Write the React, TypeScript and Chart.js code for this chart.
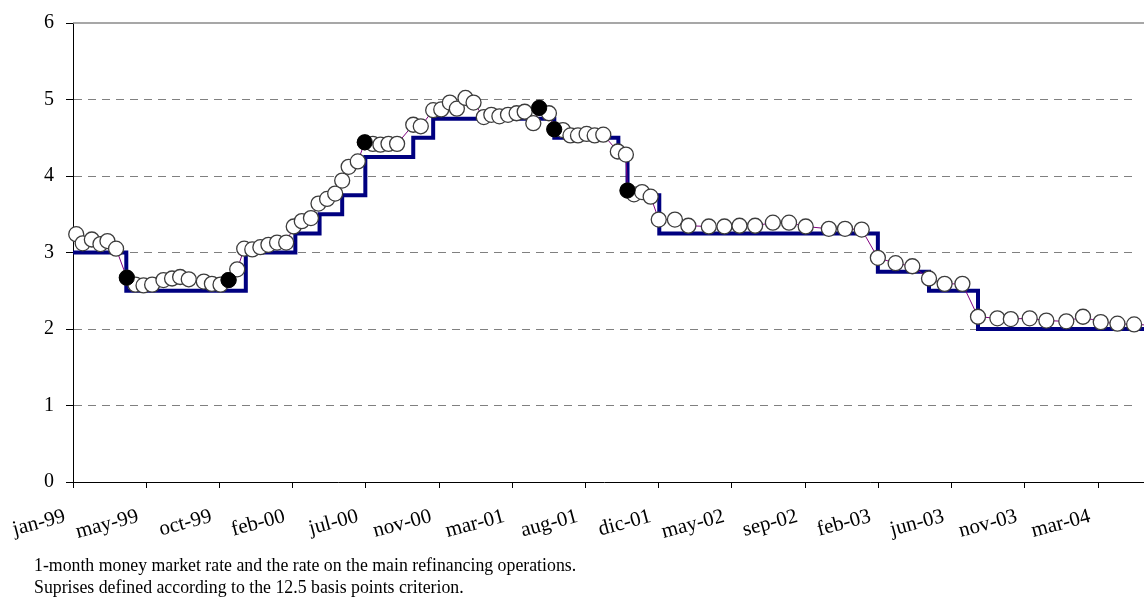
import React, { useEffect, useRef } from 'react';
import { Chart, registerables } from 'chart.js';

Chart.register(...registerables);

const FONT = "'Liberation Serif', 'Times New Roman', serif";

// x values are in axis "day" units: jan-99 label = 0, one label every 136 units
const xTickLabels = ['jan-99', 'may-99', 'oct-99', 'feb-00', 'jul-00', 'nov-00', 'mar-01', 'aug-01', 'dic-01', 'may-02', 'sep-02', 'feb-03', 'jun-03', 'nov-03', 'mar-04'];
const X_TICK_STEP = 136;
const X_MAX = 1973;

const yTickValues = [0, 1, 2, 3, 4, 5, 6];

// Rate on the main refinancing operations (step changes)
const mroDays = [0, 99, 321, 413, 458, 500, 543, 632, 669, 894, 1013, 1030, 1089, 1495, 1590, 1681, 2000];
const mroRates = [3.0, 2.5, 3.0, 3.25, 3.5, 3.75, 4.25, 4.5, 4.75, 4.5, 4.25, 3.75, 3.25, 2.75, 2.5, 2.0, 2.0];

// 1-month money market rate on meeting days
const mmDays = [6, 18, 35, 51, 64, 80, 100, 116, 131, 147, 168, 184, 199, 215, 243, 258, 274, 289, 305, 318,
  333, 348, 363, 379, 396, 410, 425, 442, 456, 472, 487, 500, 512, 529, 542, 557, 571, 586, 602, 632,
  646, 669, 684, 700, 713, 729, 744, 763, 777, 792, 808, 824, 839, 855, 866, 884, 894, 910, 924, 938,
  954, 969, 985, 1012, 1027, 1030, 1042, 1057, 1073, 1088, 1118, 1143, 1181, 1210, 1238, 1267, 1300, 1330, 1361, 1404,
  1434, 1465, 1495, 1528, 1559, 1590, 1619, 1652, 1681, 1717, 1742, 1777, 1808, 1845, 1876, 1909, 1940, 1971, 2000];
const mmRates = [3.24, 3.12, 3.17, 3.11, 3.15, 3.05, 2.67, 2.58, 2.57, 2.58, 2.64, 2.66, 2.68, 2.65, 2.62, 2.59, 2.58, 2.64, 2.78, 3.05,
  3.04, 3.07, 3.10, 3.13, 3.13, 3.34, 3.41, 3.45, 3.64, 3.70, 3.77, 3.94, 4.12, 4.19, 4.44, 4.42, 4.41, 4.42, 4.42, 4.67,
  4.65, 4.86, 4.87, 4.96, 4.88, 5.02, 4.96, 4.77, 4.80, 4.78, 4.80, 4.82, 4.84, 4.69, 4.89, 4.82, 4.61, 4.60, 4.53, 4.53,
  4.55, 4.53, 4.54, 4.32, 4.28, 3.81, 3.76, 3.79, 3.73, 3.43, 3.43, 3.35, 3.34, 3.34, 3.35, 3.35, 3.39, 3.39, 3.34, 3.31,
  3.31, 3.30, 2.93, 2.86, 2.82, 2.66, 2.59, 2.59, 2.16, 2.14, 2.13, 2.14, 2.11, 2.10, 2.16, 2.09, 2.07, 2.06, 2.05];

// Surprises (12.5 basis points criterion)
const surpriseDays = [100, 289, 542, 866, 894, 1030];
const surpriseRates = [2.67, 2.64, 4.44, 4.89, 4.61, 3.81];

// Frame: solid top line of the plot and the x-axis line carried to the right edge
const plotFrame = {
  id: 'plotFrame',
  beforeDatasetsDraw(chart: any) {
    const { ctx, chartArea, scales } = chart;
    const yTop = scales.y.getPixelForValue(scales.y.max);
    const yBottom = scales.y.getPixelForValue(scales.y.min);
    ctx.save();
    ctx.strokeStyle = '#8a8a8a';
    ctx.lineWidth = 1.5;
    ctx.beginPath();
    ctx.moveTo(chartArea.left, yTop);
    ctx.lineTo(ctx.canvas.width, yTop);
    ctx.stroke();
    ctx.strokeStyle = '#000000';
    ctx.lineWidth = 1;
    ctx.beginPath();
    ctx.moveTo(scales.x.right - 2, Math.round(yBottom) + 0.5);
    ctx.lineTo(ctx.canvas.width, Math.round(yBottom) + 0.5);
    ctx.stroke();
    ctx.restore();
  },
};

export default function App() {
  const ref = useRef<HTMLCanvasElement>(null);

  useEffect(() => {
    if (!ref.current) return;
    const toPts = (xs: number[], ys: number[]) => xs.map((x, i) => ({ x, y: ys[i] }));
    const chart = new Chart(ref.current, {
      type: 'line',
      data: {
        datasets: [
          {
            label: 'Surprises',
            data: toPts(surpriseDays, surpriseRates),
            showLine: false,
            pointRadius: 7.5,
            pointBackgroundColor: '#000000',
            pointBorderColor: '#000000',
            pointBorderWidth: 1,
            clip: false,
            order: 0,
          },
          {
            label: '1-month money market rate',
            data: toPts(mmDays, mmRates),
            borderColor: '#800080',
            borderWidth: 1,
            pointRadius: 7.5,
            pointBackgroundColor: '#ffffff',
            pointBorderColor: '#3c3c3c',
            pointBorderWidth: 1.3,
            tension: 0,
            clip: false,
            order: 1,
          },
          {
            label: 'MRO rate',
            data: toPts(mroDays, mroRates),
            stepped: 'before',
            borderColor: '#000080',
            borderWidth: 4,
            pointRadius: 0,
            clip: false,
            order: 2,
          },
        ],
      },
      options: {
        responsive: false,
        animation: false,
        layout: { padding: { top: 23, left: 0, right: 0, bottom: 0 } },
        plugins: { legend: { display: false }, tooltip: { enabled: false } },
        scales: {
          x: {
            type: 'linear',
            min: 0,
            max: X_MAX,
            afterBuildTicks: (s: any) => {
              s.ticks = xTickLabels.map((_, i) => ({ value: i * X_TICK_STEP }));
            },
            afterFit: (s: any) => {
              s.height = 118;
              s.paddingLeft = 0;
              s.paddingRight = 0;
            },
            ticks: {
              autoSkip: false,
              minRotation: 15,
              maxRotation: 15,
              padding: 16,
              labelOffset: -8,
              color: '#000000',
              font: { family: FONT, size: 21 },
              callback: (_v: any, i: number) => xTickLabels[i],
            },
            grid: { drawOnChartArea: false, drawTicks: true, tickLength: 6, color: '#000000', tickColor: '#000000' },
            border: { display: true, color: '#000000', width: 1 },
          },
          y: {
            min: 0,
            max: 6,
            afterBuildTicks: (s: any) => {
              s.ticks = yTickValues.map((v) => ({ value: v }));
            },
            afterFit: (s: any) => {
              s.width = 73;
              s.paddingTop = 0;
              s.paddingBottom = 0;
            },
            ticks: {
              padding: 12,
              color: '#000000',
              font: { family: FONT, size: 20 },
            },
            grid: {
              color: (c: any) => (c.tick && (c.tick.value === 0 || c.tick.value === 6) ? 'rgba(0,0,0,0)' : '#808080'),
              tickColor: '#000000',
              tickLength: 7,
              lineWidth: 1,
            },
            border: { display: true, color: '#000000', width: 1, dash: [8, 6] },
          },
        },
      } as any,
      plugins: [plotFrame],
    });
    return () => chart.destroy();
  }, []);

  return (
    <div style={{ position: 'absolute', left: 0, top: 0, width: 1144, height: 600, background: '#ffffff', overflow: 'hidden' }}>
      <canvas ref={ref} width={1144} height={600} style={{ position: 'absolute', left: 0, top: 0 }} />
      <div
        style={{
          position: 'absolute',
          left: 34,
          top: 554,
          fontFamily: FONT,
          fontSize: 17.8,
          lineHeight: '22px',
          whiteSpace: 'nowrap',
          color: '#000000',
        }}
      >
        <div>1-month money market rate and the rate on the main refinancing operations.</div>
        <div>Suprises defined according to the 12.5 basis points criterion.</div>
      </div>
    </div>
  );
}
